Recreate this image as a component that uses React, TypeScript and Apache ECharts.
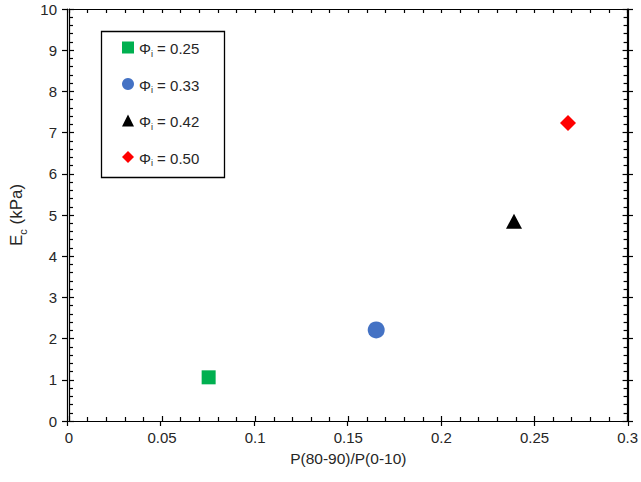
import React, { useEffect, useRef } from "react";
import * as echarts from "echarts";

const phiLabels = ["0.25", "0.33", "0.42", "0.50"];
const xValues = [0.075, 0.165, 0.239, 0.268];
const yValues = [1.06, 2.21, 4.85, 7.23];
const symbols = ["rect", "circle", "triangle", "diamond"];
const symbolSizes = [14, 17, [16, 15], 16];
const colors = ["#00b050", "#4472c4", "#000000", "#ff0000"];

const xTicks = { min: 0, max: 0.3, interval: 0.05 };
const yTicks = { min: 0, max: 10, interval: 1 };

const FONT = "Liberation Sans";
const TXT = "#262626";

export default function App() {
  const ref = useRef<HTMLDivElement>(null);
  useEffect(() => {
    if (!ref.current) return;
    const chart = echarts.init(ref.current, undefined, { renderer: "svg" });
    const gridRect = { left: 67, right: 13, top: 9, bottom: 61 };
    const lineStyle = { color: "#000", width: 1.2 };
    const names = phiLabels.map((p) => "Φi = " + p);
    const series: any[] = names.map((n, i) => ({
      type: "scatter",
      name: n,
      xAxisIndex: 0,
      yAxisIndex: 0,
      symbol: symbols[i],
      symbolSize: symbolSizes[i],
      itemStyle: { color: colors[i], opacity: 1 },
      data: [[xValues[i], yValues[i]]],
      z: 5,
    }));
    const baseX = (extra: any) => ({
      type: "value",
      min: xTicks.min,
      max: xTicks.max,
      interval: xTicks.interval,
      splitLine: { show: false },
      axisLine: { show: true, onZero: false, lineStyle },
      ...extra,
    });
    const baseY = (extra: any) => ({
      type: "value",
      min: yTicks.min,
      max: yTicks.max,
      interval: yTicks.interval,
      splitLine: { show: false },
      axisLine: { show: true, onZero: false, lineStyle },
      ...extra,
    });
    chart.setOption({
      animation: false,
      backgroundColor: "#fff",
      textStyle: { fontFamily: FONT },
      grid: [
        { ...gridRect, containLabel: false },
        { ...gridRect, containLabel: false },
      ],
      xAxis: [
        baseX({
          gridIndex: 0,
          position: "bottom",
          axisTick: { show: true, inside: true, length: 5, lineStyle },
          minorTick: { show: true, splitNumber: 5, length: 4, lineStyle },
          axisLabel: {
            show: true,
            fontSize: 15,
            color: TXT,
            margin: 9,
            fontFamily: FONT,
            formatter: (v: number) => String(parseFloat(v.toFixed(2))),
          },
          name: "P(80-90)/P(0-10)",
          nameLocation: "middle",
          nameGap: 29,
          nameTextStyle: { fontSize: 15.5, color: TXT, fontFamily: FONT },
        }),
        baseX({
          gridIndex: 0,
          position: "top",
          axisTick: { show: true, inside: true, length: 4, lineStyle },
          minorTick: { show: true, splitNumber: 5, length: 4, lineStyle },
          axisLabel: { show: false },
        }),
        baseX({
          gridIndex: 1,
          position: "bottom",
          axisTick: { show: true, inside: false, length: 5, lineStyle },
          axisLabel: { show: false },
        }),
      ],
      yAxis: [
        baseY({
          gridIndex: 0,
          position: "left",
          axisTick: { show: true, inside: true, length: 5, lineStyle },
          minorTick: { show: true, splitNumber: 5, length: 4, lineStyle },
          axisLabel: {
            show: true,
            fontSize: 15,
            color: TXT,
            margin: 12,
            fontFamily: FONT,
          },
          name: "{a|E}{s|c}{a| (kPa)}",
          nameLocation: "middle",
          nameGap: 44,
          nameRotate: 90,
          nameTextStyle: {
            color: TXT,
            fontFamily: FONT,
            rich: {
              a: { fontSize: 17, color: TXT, fontFamily: FONT, lineHeight: 20, verticalAlign: "bottom" },
              s: { fontSize: 11, color: TXT, fontFamily: FONT, lineHeight: 20, verticalAlign: "bottom", padding: [0, 0, -3, 0] },
            },
          },
        }),
        baseY({
          gridIndex: 0,
          position: "right",
          axisTick: { show: true, inside: true, length: 5, lineStyle },
          minorTick: { show: true, splitNumber: 5, length: 4, lineStyle },
          axisLabel: { show: false },
        }),
        baseY({
          gridIndex: 1,
          position: "left",
          axisTick: { show: true, inside: false, length: 5, lineStyle },
          axisLabel: { show: false },
        }),
        baseY({
          gridIndex: 1,
          position: "right",
          axisTick: { show: true, inside: false, length: 5, lineStyle },
          axisLabel: { show: false },
        }),
      ],
      legend: {
        orient: "vertical",
        left: 122,
        top: 41,
        padding: 0,
        itemWidth: 12,
        itemHeight: 12,
        itemGap: 19.5,
        data: names,
        formatter: (name: string) => "{a|Φ}{s|i}{a|" + name.slice(2) + "}",
        textStyle: {
          fontFamily: FONT,
          color: TXT,
          rich: {
            a: { fontSize: 15, color: TXT, fontFamily: FONT, lineHeight: 17, verticalAlign: "bottom" },
            s: { fontSize: 9, color: TXT, fontFamily: FONT, lineHeight: 17, verticalAlign: "bottom", padding: [0, 0, -2, 0] },
          },
        },
      },
      graphic: [
        {
          type: "rect",
          shape: { x: 101.5, y: 31.5, width: 123, height: 146 },
          style: { fill: "none", stroke: "#000", lineWidth: 1.3 },
          z: 10,
        },
      ],
      series,
    });
    return () => chart.dispose();
  }, []);
  return (
    <div
      ref={ref}
      style={{ position: "fixed", left: 0, top: 0, width: 641, height: 482, background: "#fff" }}
    />
  );
}
